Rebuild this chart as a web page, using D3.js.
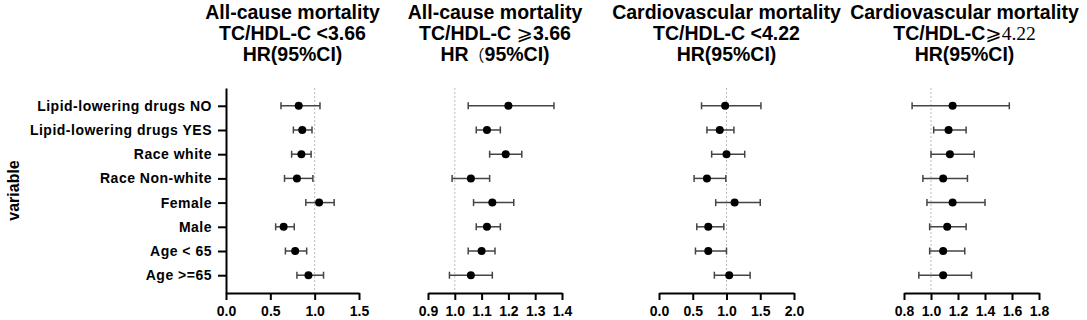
<!DOCTYPE html>
<html>
<head>
<meta charset="utf-8">
<script src="https://cdn.jsdelivr.net/npm/d3@7/dist/d3.min.js"></script>
<style>
  body { margin: 0; background: #fff; }
  svg { display: block; }
</style>
</head>
<body>
<div id="vis"></div>
<script>
// subgroups, top to bottom
var categories = ['Lipid-lowering drugs NO', 'Lipid-lowering drugs YES', 'Race white', 'Race Non-white',
                  'Female', 'Male', 'Age < 65', 'Age >=65'];

// All-cause mortality, TC/HDL-C < 3.66
var allLowHR = [0.82, 0.86, 0.85, 0.80, 1.05, 0.65, 0.78, 0.93];
var allLowLo = [0.62, 0.76, 0.74, 0.66, 0.90, 0.56, 0.67, 0.80];
var allLowHi = [1.06, 0.97, 0.96, 0.98, 1.22, 0.77, 0.91, 1.10];

// All-cause mortality, TC/HDL-C >= 3.66
var allHighHR = [1.20, 1.12, 1.19, 1.06, 1.14, 1.12, 1.10, 1.06];
var allHighLo = [1.05, 1.08, 1.13, 0.99, 1.07, 1.08, 1.05, 0.98];
var allHighHi = [1.37, 1.17, 1.25, 1.13, 1.22, 1.17, 1.15, 1.14];

// Cardiovascular mortality, TC/HDL-C < 4.22
var cvLowHR = [0.98, 0.90, 1.00, 0.71, 1.12, 0.73, 0.73, 1.04];
var cvLowLo = [0.63, 0.71, 0.78, 0.52, 0.84, 0.56, 0.54, 0.82];
var cvLowHi = [1.51, 1.11, 1.27, 0.99, 1.50, 0.96, 1.00, 1.35];

// Cardiovascular mortality, TC/HDL-C >= 4.22
var cvHighHR = [1.16, 1.13, 1.14, 1.09, 1.16, 1.12, 1.09, 1.09];
var cvHighLo = [0.86, 1.02, 1.00, 0.94, 0.97, 0.99, 0.99, 0.91];
var cvHighHi = [1.58, 1.26, 1.32, 1.27, 1.40, 1.26, 1.25, 1.30];

// x tick labels for each panel
var ticks1 = [0.0, 0.5, 1.0, 1.5];
var ticks2 = [0.9, 1.0, 1.1, 1.2, 1.3, 1.4];
var ticks3 = [0.0, 0.5, 1.0, 1.5, 2.0];
var ticks4 = [0.8, 1.0, 1.2, 1.4, 1.6, 1.8];

var width = 1087, height = 320;
var plotTop = 88, plotBottom = 293;
var font = "'Liberation Sans', Arial, sans-serif";

var panels = [
  { hr: allLowHR,  lo: allLowLo,  hi: allLowHi,  ticks: ticks1, x0: 226, x1: 359,
    title: [[['All-cause mortality']], [['TC/HDL-C <3.66']], [['HR(95%CI)']]] },
  { hr: allHighHR, lo: allHighLo, hi: allHighHi, ticks: ticks2, x0: 428, x1: 562,
    title: [[['All-cause mortality']], [['TC/HDL-C '], ['\u2A7E', 'sym'], ['3.66']],
            [['HR'], ['\uFF08', 'cjk'], ['95%CI)']]] },
  { hr: cvLowHR,   lo: cvLowLo,   hi: cvLowHi,   ticks: ticks3, x0: 659, x1: 794,
    title: [[['Cardiovascular mortality']], [['TC/HDL-C <4.22']], [['HR(95%CI)']]] },
  { hr: cvHighHR,  lo: cvHighLo,  hi: cvHighHi,  ticks: ticks4, x0: 904, x1: 1039,
    title: [[['Cardiovascular mortality']], [['TC/HDL-C'], ['\u2A7E', 'sym'], ['4.22', 'serif']],
            [['HR(95%CI)']]] }
];

var svg = d3.select('#vis')
  .append('svg')
  .attr('width', width)
  .attr('height', height);

var y = d3.scalePoint()
  .domain(categories)
  .range([plotTop, plotBottom])
  .padding(0.735);

// left axis only on the first panel
var yAxis = svg.append('g')
  .attr('transform', 'translate(' + panels[0].x0 + ',0)')
  .call(d3.axisLeft(y).tickSize(8).tickSizeOuter(0).tickPadding(6));
yAxis.select('.domain').attr('stroke', '#000').attr('stroke-width', 2);
yAxis.selectAll('.tick line').attr('stroke', '#000').attr('stroke-width', 2);
yAxis.selectAll('text')
  .attr('fill', '#000')
  .style('font-family', font)
  .style('font-size', '14px')
  .style('letter-spacing', '0.5px')
  .style('font-weight', 'bold');

svg.append('text')
  .attr('transform', 'translate(19,' + (plotTop + plotBottom) / 2 + ') rotate(-90)')
  .attr('text-anchor', 'middle')
  .style('font-family', font)
  .style('font-size', '16px')
  .style('font-weight', 'bold')
  .text('variable');

panels.forEach(function (p) {
  var x = d3.scaleLinear()
    .domain(d3.extent(p.ticks))
    .range([p.x0, p.x1]);

  var g = svg.append('g');

  // reference line at HR = 1
  g.append('line')
    .attr('x1', x(1)).attr('x2', x(1))
    .attr('y1', plotTop).attr('y2', plotBottom)
    .attr('stroke', '#bbb')
    .attr('stroke-width', 1)
    .attr('stroke-dasharray', '2,2');

  var xAxis = g.append('g')
    .attr('transform', 'translate(0,' + plotBottom + ')')
    .call(d3.axisBottom(x).tickValues(p.ticks).tickFormat(d3.format('.1f'))
      .tickSize(7).tickSizeOuter(0).tickPadding(6));
  xAxis.select('.domain').attr('stroke', '#000').attr('stroke-width', 2);
  xAxis.selectAll('.tick line').attr('stroke', '#000').attr('stroke-width', 2);
  xAxis.selectAll('text')
    .attr('fill', '#000')
    .style('font-family', font)
    .style('font-size', '14px')
    .style('font-weight', 'bold');

  var rows = categories.map(function (c, i) {
    return { cat: c, hr: p.hr[i], lo: p.lo[i], hi: p.hi[i] };
  });

  var row = g.selectAll('.row')
    .data(rows)
    .enter()
    .append('g')
    .attr('class', 'row');

  row.append('line')
    .attr('x1', function (d) { return x(d.lo); })
    .attr('x2', function (d) { return x(d.hi); })
    .attr('y1', function (d) { return y(d.cat); })
    .attr('y2', function (d) { return y(d.cat); })
    .attr('stroke', '#444')
    .attr('stroke-width', 1.5);

  ['lo', 'hi'].forEach(function (k) {
    row.append('line')
      .attr('x1', function (d) { return x(d[k]); })
      .attr('x2', function (d) { return x(d[k]); })
      .attr('y1', function (d) { return y(d.cat) - 3.5; })
      .attr('y2', function (d) { return y(d.cat) + 3.5; })
      .attr('stroke', '#444')
      .attr('stroke-width', 1.5);
  });

  row.append('circle')
    .attr('cx', function (d) { return x(d.hr); })
    .attr('cy', function (d) { return y(d.cat); })
    .attr('r', 4)
    .attr('fill', '#000');

  // three-line title, centred over the axis
  var cx = (p.x0 + p.x1) / 2;
  var title = g.append('text')
    .attr('text-anchor', 'middle')
    .style('font-family', font)
    .style('font-size', '19.5px')
    .style('font-weight', 'bold')
    .attr('fill', '#000');
  p.title.forEach(function (line, li) {
    line.forEach(function (seg, si) {
      var t = title.append('tspan').text(seg[0]);
      if (si === 0) t.attr('x', cx).attr('y', 19 + li * 21);
      if (seg[1] === 'sym') t.style('font-family', "'DejaVu Sans', sans-serif").style('font-weight', 'normal');
      if (seg[1] === 'cjk') t.style('font-family', "'Noto Sans CJK SC', sans-serif")
        .style('font-weight', 'normal').style('font-size', '16px');
      if (seg[1] === 'serif') t.style('font-family', "'Liberation Serif', serif").style('font-weight', 'normal');
    });
  });
  // keep the last title inside the picture
  var bb = title.node().getBBox();
  if (bb.x + bb.width > width - 8) {
    var shift = bb.x + bb.width - (width - 8);
    title.selectAll('tspan').filter(function () { return this.hasAttribute('x'); })
      .attr('x', cx - shift);
  }
});
</script>
</body>
</html>
